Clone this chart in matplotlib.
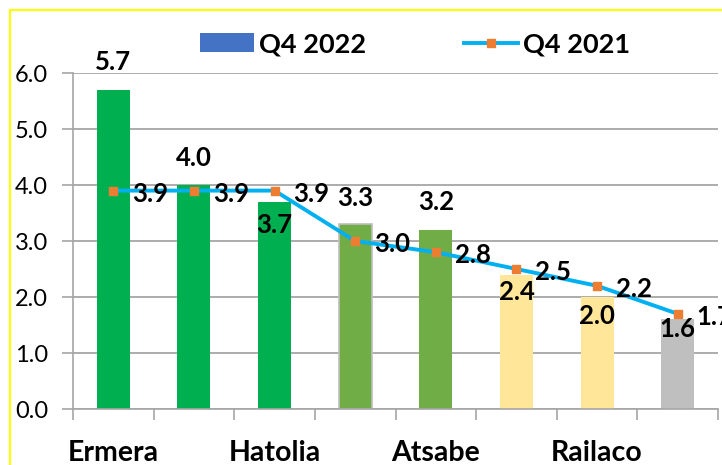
import matplotlib
matplotlib.use("Agg")
import matplotlib.pyplot as plt
from matplotlib.patches import Rectangle, Patch
from matplotlib.lines import Line2D
import numpy as np

plt.rcParams['font.family'] = ['Lato', 'DejaVu Sans']

categories = ["Ermera", "", "Hatolia", "", "Atsabe", "", "Railaco", ""]
q4_2022 = [5.7, 4.0, 3.7, 3.3, 3.2, 2.4, 2.0, 1.6]
q4_2021 = [3.9, 3.9, 3.9, 3.0, 2.8, 2.5, 2.2, 1.7]
bar_colors = ["#00B050", "#00B050", "#00B050", "#70AD47", "#70AD47", "#FFE699", "#FFE699", "#BFBFBF"]
# label vertical offsets in pixels relative to bar top (positive = above)
bar_label_offsets = [28, 27, -23, 26, 28, -17, -19, -10]

fig = plt.figure(figsize=(7.22, 4.65), dpi=100)
ax = fig.add_axes([73/722, 1-409/465, 645/722, 336/465])

x = np.arange(len(q4_2022))
ax.bar(x, q4_2022, width=0.41, color=bar_colors, zorder=2,
       edgecolor=["none"]*3 + ["#BFBFBF"] + ["none"]*4, linewidth=1.2)
ax.plot(x, q4_2021, color="#00B0F0", lw=2.8, marker="s", markersize=5.5,
        markerfacecolor="#ED7D31", markeredgecolor="#ED7D31", zorder=3)

px = 72/100
for xi, v, off in zip(x, q4_2022, bar_label_offsets):
    ax.annotate(f"{v:.1f}", (xi, v), xytext=(0, off*px), textcoords="offset points",
                ha="center", va="center", fontsize=18.5, fontweight="bold", zorder=4)
for xi, v in zip(x, q4_2021):
    ax.annotate(f"{v:.1f}", (xi, v), xytext=(37*px, -3*px), textcoords="offset points",
                ha="center", va="center", fontsize=18.5, fontweight="bold", zorder=4,
                annotation_clip=False)

ax.set_xlim(-0.5, 7.5)
ax.set_ylim(0, 6)
yt = np.arange(0, 6.01, 1.0)
ax.set_yticks(yt)
ax.set_yticklabels([f"{t:.1f}" for t in yt], fontsize=17)
ax.yaxis.grid(True, color="#A6A6A6", lw=1.3, zorder=0)
ax.set_axisbelow(True)

ax.set_xticks(x)
ax.set_xticklabels(categories, fontsize=20.5, fontweight="bold")
ax.set_xticks(np.arange(-0.5, 7.6, 1.0), minor=True)
ax.tick_params(axis="x", which="major", length=0, pad=22)
ax.tick_params(axis="x", which="minor", length=8, color="#A6A6A6", width=1.2)
ax.tick_params(axis="y", length=8, color="#A6A6A6", width=1.2, pad=10)

for s in ["top", "right"]:
    ax.spines[s].set_visible(False)
ax.spines["left"].set_color("#A6A6A6")
ax.spines["bottom"].set_color("#A6A6A6")
ax.spines["left"].set_linewidth(1.2)
ax.spines["bottom"].set_linewidth(1.2)

handles = [Patch(facecolor="#4472C4", edgecolor="none"),
           Line2D([0], [0], color="#00B0F0", lw=2.8, marker="s", markersize=5.5,
                  markerfacecolor="#ED7D31", markeredgecolor="#ED7D31")]
leg = fig.legend(handles, ["Q4 2022", "Q4 2021"], loc="center", bbox_to_anchor=(415/722, 1-44/465),
                 ncol=2, frameon=False, prop={"size": 19.5, "weight": "bold"},
                 handlelength=2.0, handleheight=0.65, columnspacing=3.6, handletextpad=0.2,
                 borderpad=0, borderaxespad=0)

fig.patches.append(Rectangle((10/722, -0.1), 1.0, 1-10/465+0.1, transform=fig.transFigure,
                             fill=False, edgecolor="#FFFF00", lw=1.5))

fig.savefig("out.png", dpi=100)
